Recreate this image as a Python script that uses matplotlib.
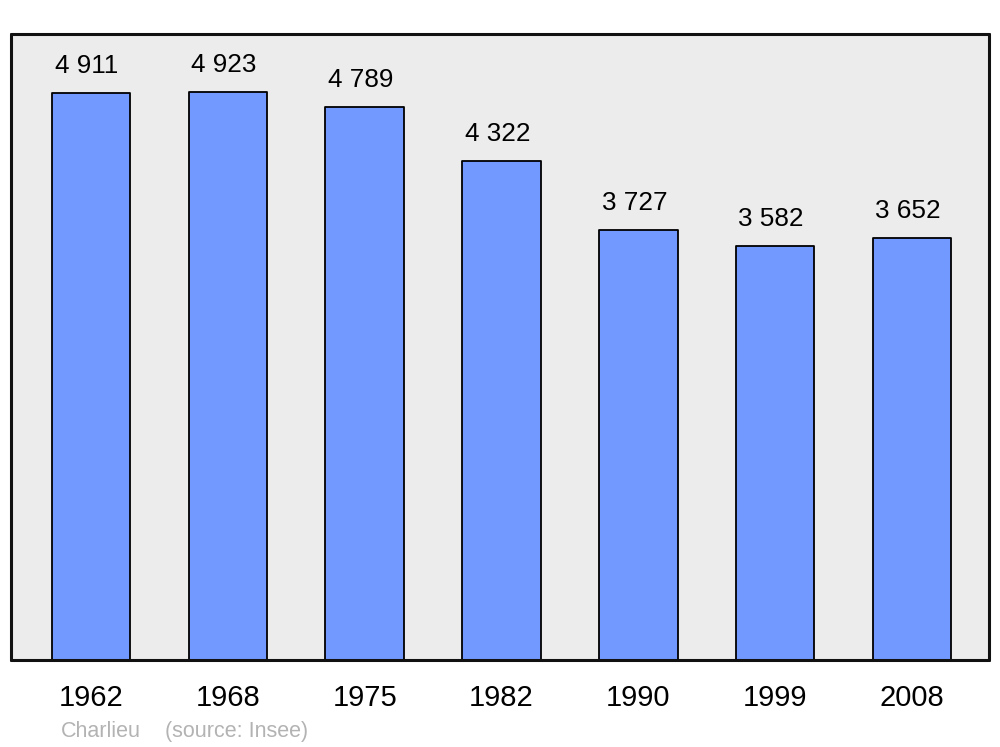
import matplotlib.pyplot as plt

plt.rcParams['font.family'] = ['Liberation Sans', 'DejaVu Sans']

years = ["1962", "1968", "1975", "1982", "1990", "1999", "2008"]
population = [4911, 4923, 4789, 4322, 3727, 3582, 3652]
value_labels = ["4 911", "4 923", "4 789", "4 322", "3 727", "3 582", "3 652"]

fig = plt.figure(figsize=(10, 7.47), dpi=100)
ax = fig.add_axes([0.011, 0.1165, 0.978, 0.838])
ax.set_facecolor("#ececec")

x = list(range(len(years)))
bars = ax.bar(x, population, width=0.575, color="#7299ff", edgecolor="black", linewidth=1.3, zorder=2)
for b in bars:
    b.set_joinstyle("round")

for xi, v, lab in zip(x, population, value_labels):
    ax.annotate(lab, (xi, v), xytext=(-4, 27), textcoords="offset pixels",
                ha="center", va="center", fontsize=18.8, color="black")

ax.set_xlim(-0.585, 6.563)
ax.set_ylim(0, 5422)
ax.set_yticks([])
ax.set_xticks(x)
ax.set_xticklabels(years, fontsize=21)
ax.tick_params(axis="x", length=0, pad=17)

for s in ax.spines.values():
    s.set_linewidth(2.2)
    s.set_color("#111111")
    s.set_capstyle("round")

fig.text(0.061, 0.021, "Charlieu", fontsize=15.5, color="#b3b3b3", ha="left", va="center")
fig.text(0.165, 0.021, "(source: Insee)", fontsize=15.5, color="#b3b3b3", ha="left", va="center")

fig.savefig("out.png", dpi=100)
